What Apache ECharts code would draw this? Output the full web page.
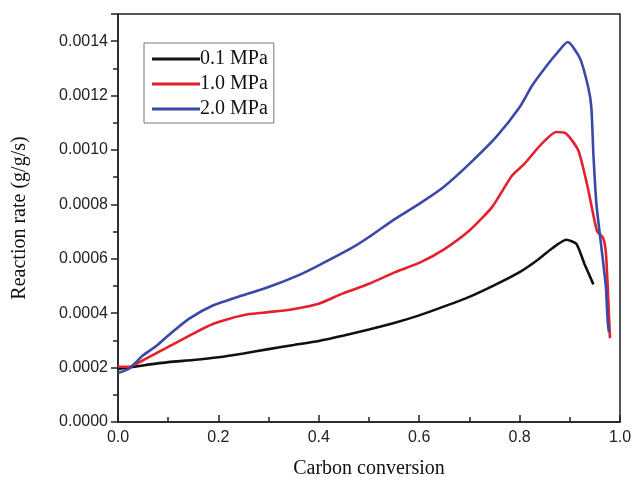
<!DOCTYPE html>
<html>
<head>
<meta charset="utf-8">
<script src="https://cdn.jsdelivr.net/npm/echarts@6/dist/echarts.min.js"></script>
<style>
html, body { margin: 0; padding: 0; background: #fff; }
#main { width: 632px; height: 477px; }
</style>
</head>
<body>
<div id="main"></div>
<script>
var seriesNames = ['0.1 MPa', '1.0 MPa', '2.0 MPa'];

var xLow = [0, 0.05, 0.1, 0.15, 0.2, 0.25, 0.3, 0.35, 0.4, 0.45, 0.5, 0.55, 0.6, 0.65, 0.7, 0.75, 0.8, 0.833, 0.865, 0.893, 0.913, 0.929, 0.947];
var yLow = [0.000195, 0.000208, 0.00022, 0.000228, 0.000238, 0.000252, 0.000268, 0.000283, 0.000298, 0.000318, 0.00034, 0.000364, 0.000392, 0.000425, 0.00046, 0.000503, 0.000551, 0.000592, 0.000639, 0.00067, 0.000655, 0.000582, 0.000506];

var xMid = [0, 0.022, 0.05, 0.1, 0.15, 0.19, 0.222, 0.259, 0.3, 0.343, 0.4, 0.447, 0.5, 0.552, 0.6, 0.648, 0.7, 0.745, 0.785, 0.81, 0.841, 0.873, 0.893, 0.917, 0.936, 0.954, 0.966, 0.972, 0.977, 0.98];
var yMid = [0.000203, 0.000203, 0.000227, 0.000276, 0.000325, 0.000361, 0.00038, 0.000396, 0.000404, 0.000413, 0.000435, 0.000472, 0.000508, 0.000551, 0.000585, 0.000633, 0.000704, 0.00079, 0.000906, 0.00095, 0.001017, 0.001066, 0.00106, 0.000998, 0.00086, 0.000703, 0.000678, 0.00062, 0.000436, 0.000308];

var xHigh = [0, 0.022, 0.05, 0.078, 0.1, 0.142, 0.19, 0.247, 0.3, 0.359, 0.4, 0.463, 0.5, 0.552, 0.6, 0.648, 0.7, 0.753, 0.8, 0.825, 0.849, 0.873, 0.896, 0.92, 0.937, 0.943, 0.947, 0.953, 0.963, 0.972, 0.974, 0.976, 0.978];
var yHigh = [0.00018, 0.000196, 0.000245, 0.000282, 0.000318, 0.00038, 0.000429, 0.000465, 0.000496, 0.000539, 0.000576, 0.000637, 0.00068, 0.000747, 0.000802, 0.000863, 0.000949, 0.001047, 0.001157, 0.001237, 0.001298, 0.001353, 0.001397, 0.001338, 0.001228, 0.001155, 0.000985, 0.000802, 0.000641, 0.000495, 0.00042, 0.00036, 0.00033];

var colors = ['#111111', '#e3212b', '#3a49a6'];

function pairs(xs, ys) {
    var out = [];
    for (var i = 0; i < xs.length; i++) out.push([xs[i], ys[i]]);
    return out;
}

var dom = document.getElementById('main');
var myChart = echarts.init(dom);
var option = {
    animation: false,
    color: colors,
    grid: {
        left: 118, right: 12, top: 14, bottom: 55,
        outerBoundsMode: 'none',
        show: true, borderColor: '#222', borderWidth: 1.5
    },
    legend: {
        orient: 'vertical',
        left: 144, top: 43,
        icon: 'rect',
        itemWidth: 48, itemHeight: 3,
        itemGap: 5,
        padding: [6, 6, 4, 8],
        borderColor: '#777', borderWidth: 1,
        textStyle: { fontFamily: 'Liberation Serif', fontSize: 20, color: '#111', padding: [0, 0, 0, -5] },
        data: seriesNames
    },
    xAxis: {
        type: 'value',
        min: 0, max: 1, interval: 0.2,
        name: 'Carbon conversion',
        nameLocation: 'middle',
        nameGap: 37,
        nameTextStyle: { fontFamily: 'Liberation Serif', fontSize: 20, color: '#111' },
        splitLine: { show: false },
        axisLine: { lineStyle: { color: '#222', width: 1.5 } },
        axisTick: { inside: true, length: 7, lineStyle: { color: '#222', width: 1.5 } },
        minorTick: { show: true, splitNumber: 2, length: 5, lineStyle: { color: '#222', width: 1.5 } },
        axisLabel: {
            fontFamily: 'Liberation Sans', fontSize: 16, color: '#222', margin: 8,
            formatter: function (v) { return v.toFixed(1); }
        }
    },
    yAxis: {
        type: 'value',
        min: 0, max: 0.0015, interval: 0.0002,
        name: 'Reaction rate (g/g/s)',
        nameLocation: 'middle',
        nameGap: 88,
        nameTextStyle: { fontFamily: 'Liberation Serif', fontSize: 20, color: '#111' },
        splitLine: { show: false },
        axisLine: { lineStyle: { color: '#222', width: 1.5 } },
        axisTick: { inside: false, length: 7, lineStyle: { color: '#222', width: 1.5 } },
        minorTick: { show: true, splitNumber: 2, length: 5, lineStyle: { color: '#222', width: 1.5 } },
        axisLabel: {
            fontFamily: 'Liberation Sans', fontSize: 16, color: '#222', margin: 10,
            showMaxLabel: false,
            formatter: function (v) { return v.toFixed(4); }
        }
    },
    series: [
        { name: seriesNames[0], type: 'line', showSymbol: false, smooth: 0.2, lineStyle: { width: 2.6 }, data: pairs(xLow, yLow) },
        { name: seriesNames[1], type: 'line', showSymbol: false, smooth: 0.2, lineStyle: { width: 2.6 }, data: pairs(xMid, yMid) },
        { name: seriesNames[2], type: 'line', showSymbol: false, smooth: 0.2, lineStyle: { width: 2.6 }, data: pairs(xHigh, yHigh) }
    ]
};
myChart.setOption(option);
</script>
</body>
</html>
